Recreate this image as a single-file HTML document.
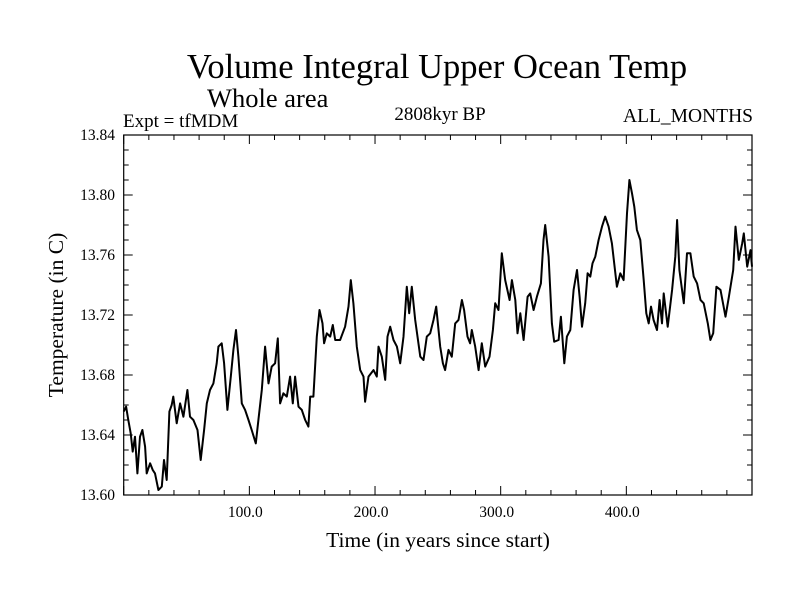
<!DOCTYPE html>
<html><head><meta charset="utf-8"><style>
body{margin:0;background:#fff}
svg{display:block;font-family:"Liberation Serif",serif}
</style></head><body>
<svg id="chart" width="800" height="600">
<text x="437" y="78" font-size="34.5" text-anchor="middle">Volume Integral Upper Ocean Temp</text>
<text x="207" y="107" font-size="26.5">Whole area</text>
<text x="123" y="127" font-size="19">Expt = tfMDM</text>
<text x="440" y="120" font-size="19" text-anchor="middle">2808kyr BP</text>
<text x="753" y="122" font-size="19.5" text-anchor="end">ALL_MONTHS</text>
<text x="438" y="547" font-size="21.5" text-anchor="middle">Time (in years since start)</text>
<text transform="translate(63,315) rotate(-90)" font-size="21.5" text-anchor="middle">Temperature (in C)</text>
<g id="axes"></g>
<g id="series"></g>
</svg>
<script>
const years=[0,1.9,3.7,5.6,7.2,9.0,10.9,13.0,14.9,17.0,18.3,21.0,23.1,24.9,27.6,30.3,32.1,34.2,36.4,38.2,39.5,42.2,44.9,47.5,50.7,52.8,55.5,58.7,61.3,64.0,66.1,68.7,71.4,74.0,75.4,78.0,79.9,82.5,85.2,87.3,89.4,91.3,94.0,96.6,99.3,101.9,105.1,107.2,109.9,112.5,115.2,117.8,120.5,122.6,124.5,127.1,129.8,132.4,134.6,136.4,139.1,141.7,144.4,147.0,148.4,151.0,153.7,155.8,158.2,159.5,161.6,164.3,166.4,168.3,172.2,176.2,178.9,180.7,182.8,185.5,188.2,190.8,192.1,194.8,198.8,201.4,202.8,205.4,208.1,209.9,212.1,214.7,217.4,220.0,222.7,225.3,227.2,229.3,232.0,236.0,238.6,241.2,243.9,246.5,248.7,
251.9,254.0,255.8,258.5,261.1,263.8,266.4,269.1,270.9,273.6,275.7,277.0,279.7,282.4,285.0,287.7,291.1,293.8,295.6,298.3,300.9,303.6,307.1,308.9,311.6,313.4,315.6,318.2,321.4,323.5,326.2,328.8,332.0,334.1,335.4,338.1,340.8,342.6,346.1,347.9,350.6,352.7,355.4,358.0,360.7,362.8,364.7,367.3,369.2,371.3,373.1,375.3,377.9,380.6,383.2,385.9,388.5,392.5,395.2,397.8,400.5,402.4,404.5,406.3,408.4,411.1,413.8,415.9,417.8,419.6,421.7,424.4,426.5,428.4,429.7,432.9,436.4,439.0,440.4,442.2,445.7,448.3,451.0,453.6,456.3,459.0,461.6,464.8,466.9,469.1,471.7,474.9,478.9,481.6,485.0,486.9,489.5,492.2,493.5,496.2,498.8,500.0];
const temps=[13.6556,13.6589,13.6500,13.6411,13.6289,13.6389,13.6144,13.6389,13.6433,13.6322,13.6144,13.6211,13.6167,13.6144,13.6033,13.6056,13.6233,13.6100,13.6556,13.6600,13.6656,13.6478,13.6611,13.6522,13.6700,13.6522,13.6500,13.6433,13.6233,13.6433,13.6611,13.6700,13.6744,13.6878,13.6989,13.7011,13.6878,13.6567,13.6789,13.6967,13.7100,13.6922,13.6611,13.6567,13.6500,13.6433,13.6344,13.6500,13.6700,13.6989,13.6744,13.6856,13.6878,13.7044,13.6611,13.6678,13.6656,13.6789,13.6611,13.6789,13.6589,13.6567,13.6500,13.6456,13.6656,13.6656,13.7056,13.7233,13.7144,13.7011,13.7078,13.7056,13.7133,13.7033,13.7033,13.7122,13.7256,13.7433,13.7278,13.6989,13.6833,13.6789,13.6622,13.6789,13.6833,13.6789,13.6989,13.6922,13.6767,13.7056,13.7122,13.7033,13.6989,13.6878,13.7056,13.7389,13.7211,13.7389,13.7167,13.6922,13.6900,13.7056,13.7078,13.7167,13.7256,
13.6989,13.6878,13.6833,13.6967,13.6922,13.7144,13.7167,13.7300,13.7233,13.7056,13.7011,13.7100,13.6989,13.6833,13.7011,13.6856,13.6922,13.7100,13.7278,13.7233,13.7611,13.7433,13.7300,13.7433,13.7300,13.7078,13.7211,13.7033,13.7322,13.7344,13.7233,13.7322,13.7411,13.7700,13.7800,13.7589,13.7144,13.7022,13.7033,13.7189,13.6878,13.7056,13.7100,13.7367,13.7500,13.7322,13.7122,13.7278,13.7478,13.7456,13.7544,13.7589,13.7700,13.7789,13.7856,13.7789,13.7678,13.7389,13.7478,13.7433,13.7878,13.8100,13.8011,13.7922,13.7767,13.7700,13.7433,13.7211,13.7144,13.7256,13.7167,13.7100,13.7300,13.7144,13.7344,13.7122,13.7367,13.7589,13.7833,13.7500,13.7278,13.7611,13.7611,13.7456,13.7411,13.7300,13.7278,13.7144,13.7033,13.7078,13.7389,13.7367,13.7189,13.7322,13.7500,13.7789,13.7567,13.7678,13.7744,13.7522,13.7633,13.7522];
const yTicks=[13.60,13.64,13.68,13.72,13.76,13.80,13.84];
const yTickLabels=["13.60","13.64","13.68","13.72","13.76","13.80","13.84"];
const xTicks=[100,200,300,400];
const xTickLabels=["100.0","200.0","300.0","400.0"];

const L=123.7,R=752,T=135,B=495,X0=0,X1=500,Y0=13.60,Y1=13.84;
const xs=v=>L+(v-X0)/(X1-X0)*(R-L);
const ys=v=>B-(v-Y0)/(Y1-Y0)*(B-T);
const NS="http://www.w3.org/2000/svg";
const axes=document.getElementById('axes');
function mk(tag,attrs,parent){const e=document.createElementNS(NS,tag);for(const k in attrs)e.setAttribute(k,attrs[k]);parent.appendChild(e);return e;}
const frame=mk('rect',{x:L,y:T,width:R-L,height:B-T,fill:'none',stroke:'#000','stroke-width':1.2},axes);


for(let v=0;v<=500;v+=20){const x=xs(v);const major=v%100===0;const len=major?9:5;
 mk('line',{x1:x,y1:B,x2:x,y2:B-len,stroke:'#000'},axes);
 mk('line',{x1:x,y1:T,x2:x,y2:T+len,stroke:'#000'},axes);}
for(let i=0;i<=24;i++){const v=13.60+i*0.01;const y=ys(v);const major=i%4===0;const len=major?9:5;
 mk('line',{x1:L,y1:y,x2:L+len,y2:y,stroke:'#000'},axes);
 mk('line',{x1:R,y1:y,x2:R-len,y2:y,stroke:'#000'},axes);}
yTicks.forEach((v,i)=>{const t=mk('text',{x:115,y:ys(v)+5,'font-size':15.5,'text-anchor':'end'},axes);t.textContent=yTickLabels[i];
 
 });
xTicks.forEach((v,i)=>{const t=mk('text',{x:xs(v)-4,y:517,'font-size':15.5,'text-anchor':'middle'},axes);t.textContent=xTickLabels[i];
 
 });
const d=years.map((v,i)=>(i?'L':'M')+xs(v).toFixed(1)+','+ys(temps[i]).toFixed(1)).join('');
const p=mk('path',{d:d,fill:'none',stroke:'#000','stroke-width':2,'stroke-linejoin':'round'},document.getElementById('series'));


</script>
</body></html>
